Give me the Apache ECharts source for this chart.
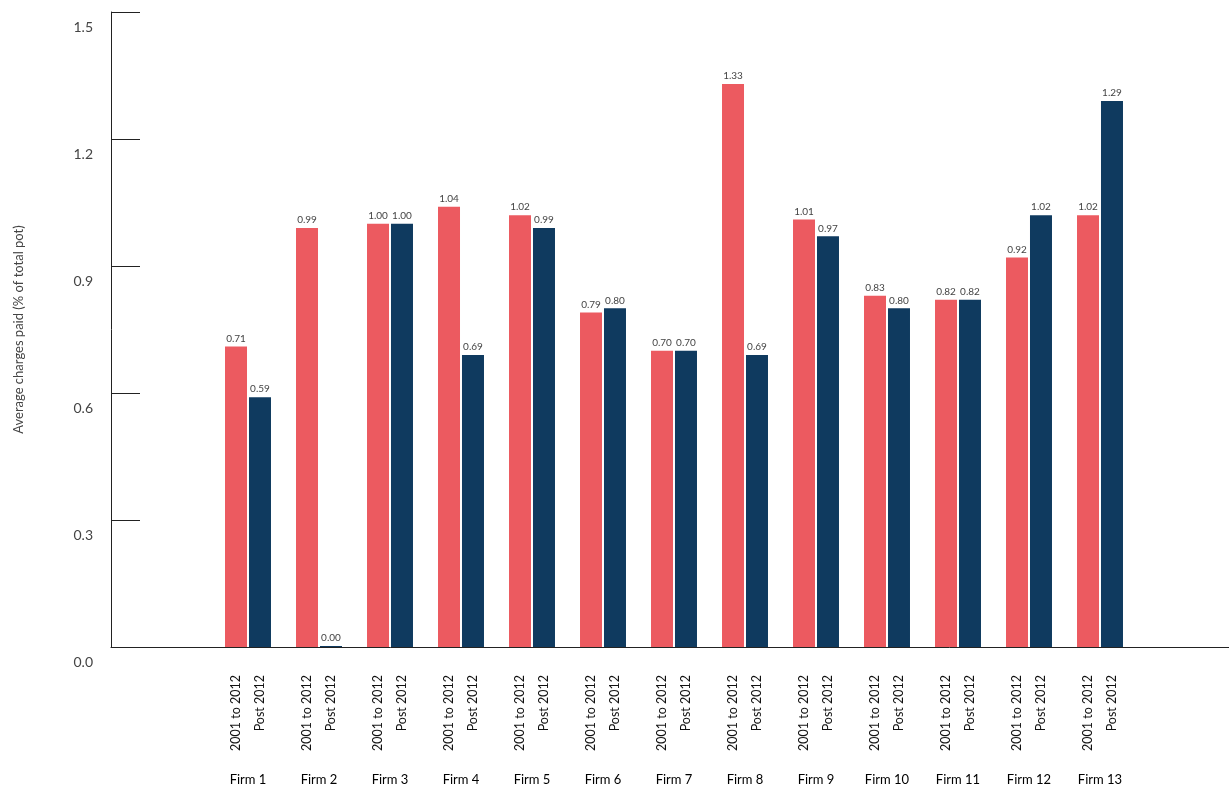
<!DOCTYPE html>
<html><head><meta charset="utf-8">
<script src="https://cdn.jsdelivr.net/npm/echarts@6/dist/echarts.min.js"></script>
<style>html,body{margin:0;padding:0;background:#fff}#c{width:1229px;height:787px}</style>
</head><body><div id="c"></div>
<script>
const firms = ['Firm 1','Firm 2','Firm 3','Firm 4','Firm 5','Firm 6','Firm 7','Firm 8','Firm 9','Firm 10','Firm 11','Firm 12','Firm 13'];
const pre2012 = [0.71,0.99,1.00,1.04,1.02,0.79,0.70,1.33,1.01,0.83,0.82,0.92,1.02];
const post2012 = [0.59,0.00,1.00,0.69,0.99,0.80,0.70,0.69,0.97,0.80,0.82,1.02,1.29];
const seriesNames = ['2001 to 2012','Post 2012'];
const RED = '#EC5A60', NAVY = '#0F3A5F';
const font = 'Lato';
const zeros = firms.map(() => 0);
function labelSeries(name, stack){
  return {type:'bar', stack, xAxisIndex:1, yAxisIndex:1, barWidth:22, barGap:'9%', data:zeros,
    itemStyle:{color:'transparent'}, silent:true,
    label:{show:true, position:'bottom', distance:28, rotate:90, align:'right', verticalAlign:'middle',
      formatter:()=>name, fontFamily:font, fontSize:12.5, color:'#111'}};
}
function dataSeries(name, stack, data, color){
  return {name, type:'bar', stack, xAxisIndex:1, yAxisIndex:1, barWidth:22, barGap:'9%', data,
    barMinHeight:1, itemStyle:{color},
    label:{show:true, position:'top', distance:3, fontFamily:font, fontSize:10, color:'#444',
      formatter:p=>p.value.toFixed(2)}};
}
const chart = echarts.init(document.getElementById('c'));
chart.setOption({
  animation:false,
  grid:[{left:111, right:0, top:12, bottom:140},{left:212.5, right:93.5, top:12, bottom:140}],
  xAxis:[
    {gridIndex:0, type:'value', min:0, max:1, axisLine:{show:true, lineStyle:{color:'#222'}}, axisTick:{show:false}, axisLabel:{show:false}, splitLine:{show:false}},
    {gridIndex:1, type:'category', data:firms, axisLine:{show:false}, axisTick:{show:false},
      axisLabel:{margin:126, fontFamily:font, fontSize:13, color:'#000'}}
  ],
  yAxis:[
    {gridIndex:0, type:'value', min:0, max:1.5, interval:0.3,
      name:'Average charges paid (% of total pot)', nameLocation:'middle', nameGap:86,
      nameTextStyle:{fontFamily:font, fontSize:13, color:'#444'},
      axisLine:{show:true, lineStyle:{color:'#222'}},
      axisTick:{show:true, inside:true, length:29, lineStyle:{color:'#222'}},
      axisLabel:{margin:18, verticalAlign:'top', padding:[8,0,0,0], fontFamily:font, fontSize:14, color:'#444', formatter:v=>v.toFixed(1)},
      splitLine:{show:false}},
    {gridIndex:1, type:'value', min:0, max:1.5, interval:0.3, show:false}
  ],
  series:[
    labelSeries(seriesNames[0],'a'),
    dataSeries(seriesNames[0],'a',pre2012,RED),
    labelSeries(seriesNames[1],'b'),
    dataSeries(seriesNames[1],'b',post2012,NAVY)
  ]
});
</script></body></html>
